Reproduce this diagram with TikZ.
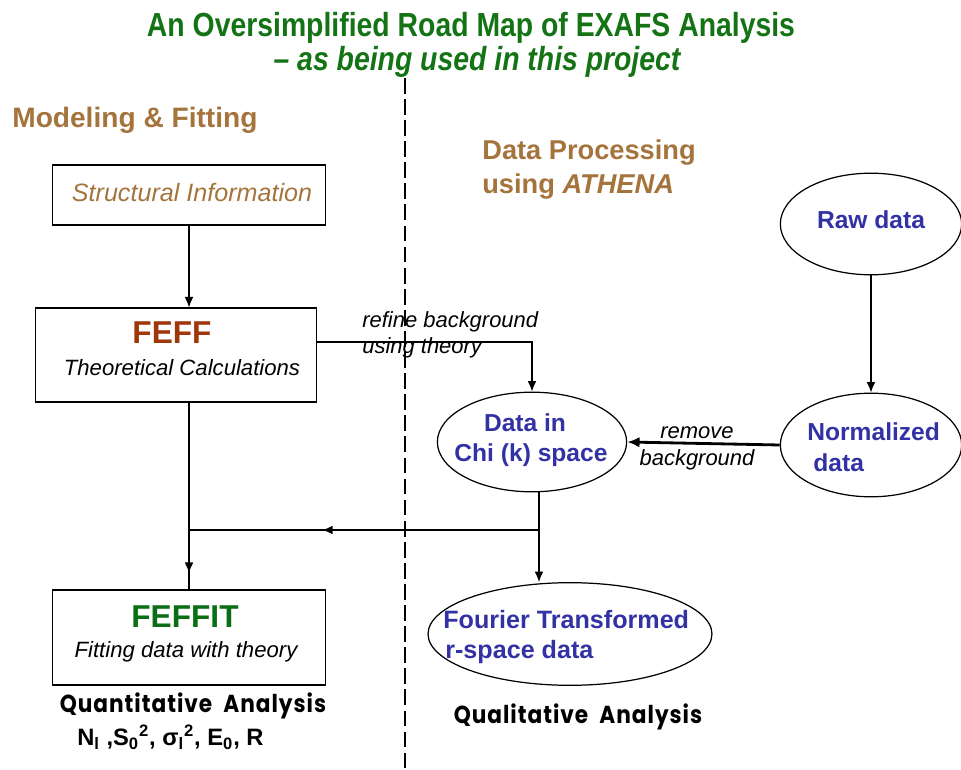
\documentclass[tikz,border=0pt]{standalone}
\usepackage{fontspec}
\setmainfont{Liberation Sans}
\newfontfamily\narrowfont[FakeStretch=0.85]{Liberation Sans}
\newfontfamily\comicfont[FakeStretch=0.88,LetterSpace=4]{Poppins}
\usetikzlibrary{arrows.meta,shapes.geometric}
\definecolor{titlegreen}{RGB}{20,115,20}
\definecolor{brownlbl}{RGB}{165,115,60}
\definecolor{feffred}{RGB}{160,55,10}
\definecolor{fitgreen}{RGB}{10,110,20}
\definecolor{datablue}{RGB}{50,50,165}
\newcommand{\fs}[1]{\fontsize{#1}{1.15\dimexpr#1pt\relax}\selectfont}
\begin{document}
\begin{tikzpicture}[x=0.02cm,y=-0.02cm,
  box/.style={draw,line width=0.8pt,minimum width=#1,inner sep=0pt},
  ell/.style={draw,ellipse,line width=0.7pt,inner sep=0pt},
  lbl/.style={inner sep=0pt,anchor=center},
  arr/.style={line width=0.7pt,-{Latex[length=6pt,width=5pt]}},
  ln/.style={line width=0.7pt},
  divider/.style={line width=0.7pt,dash pattern=on 9pt off 3pt}]
\useasboundingbox (0,0) rectangle (961,770);
% titles
\node[lbl,text=titlegreen] (t1) at (471,28) {\narrowfont\bfseries\fs{19}An Oversimplified Road Map of EXAFS Analysis};
\node[lbl,text=titlegreen] (t2) at (477,62) {\narrowfont\bfseries\itshape\fs{19}– as being used in this project};
\node[lbl,anchor=west,text=brownlbl] (mf) at (12,120) {\bfseries\fs{16}Modeling \& Fitting};
\node[lbl,anchor=west,text=brownlbl] (dp1) at (482,153) {\bfseries\fs{15.5}Data Processing};
\node[lbl,anchor=west,text=brownlbl] (dp2) at (482,187) {\bfseries\fs{15.5}using \itshape ATHENA};
% divider
\coordinate (dtop) at (405,78);
\coordinate (dbot) at (405,770);
\draw[divider] (dtop) -- (dbot);
% boxes
\node[box=274*0.567pt,minimum height=60*0.567pt] (struct) at (189,195) {};
\node[lbl,text=brownlbl] (structt) at (192,193) {\itshape\fs{14.3}Structural Information};
\node[box=282*0.567pt,minimum height=94*0.567pt] (feff) at (176,355) {};
\node[lbl,text=feffred] (feffa) at (172,333) {\bfseries\fs{18}FEFF};
\node[lbl] (feffb) at (182,368) {\itshape\fs{12.6}Theoretical Calculations};
\node[box=274*0.567pt,minimum height=95*0.567pt] (feffit) at (189,637.5) {};
\node[lbl,text=fitgreen] (feffita) at (185,617) {\bfseries\fs{18}FEFFIT};
\node[lbl] (feffitb) at (186,652) {\itshape\fs{12.6}Fitting data with theory};
% ellipses
\node[ell,minimum width=182*0.567pt,minimum height=102*0.567pt] (raw) at (871,224) {};
\node[lbl,text=datablue] (rawt) at (871,220) {\bfseries\fs{14}Raw data};
\node[ell,minimum width=182*0.567pt,minimum height=104*0.567pt] (norm) at (871,445) {};
\node[lbl,anchor=west,text=datablue] (normt1) at (807,432) {\bfseries\fs{14}Normalized};
\node[lbl,anchor=west,text=datablue] (normt2) at (813,463) {\bfseries\fs{14}data};
\node[ell,minimum width=190*0.567pt,minimum height=100*0.567pt] (chi) at (532,442) {};
\node[lbl,text=datablue] (chit1) at (525,423) {\bfseries\fs{14}Data in};
\node[lbl,text=datablue] (chit2) at (531,455) {\bfseries\fs{14}Chi (k) space};
\node[ell,minimum width=285*0.567pt,minimum height=103*0.567pt] (four) at (570,634) {};
\node[lbl,anchor=west,text=datablue] (fourt1) at (443,620) {\bfseries\fs{14.3}Fourier Transformed};
\node[lbl,anchor=west,text=datablue] (fourt2) at (445,652) {\bfseries\fs{14.3}r-space data};
% connector labels
\node[lbl,anchor=west] (ref1) at (362,322) {\itshape\fs{12.5}refine background};
\node[lbl,anchor=west] (ref2) at (362,348) {\itshape\fs{12.5}using theory};
\node[lbl] (rem1) at (697,433) {\itshape\fs{12.5}remove};
\node[lbl] (rem2) at (697,460) {\itshape\fs{12.5}background};
% analysis labels
\node[lbl] (quant) at (193,706) {\comicfont\bfseries\fs{14}Quantitative\ \ Analysis};
\node[lbl,anchor=west] (params) at (77,737) {\bfseries\fs{13.5}N\textsubscript{l} ,S\textsubscript{0}\textsuperscript{2}, σ\textsubscript{l}\textsuperscript{2}, E\textsubscript{0}, R};
\node[lbl] (qual) at (578,717) {\comicfont\bfseries\fs{14}Qualitative\ \ Analysis};
% connectors
\coordinate (sp) at (189,0);
\draw[arr] (struct.south) -- (sp |- feff.north);
\coordinate (r1) at (feff.east |- 0,342);
\draw[arr] (r1) -| (chi.north);
\draw[arr] (raw.south) -- (norm.north);
\draw[line width=1.6pt,-{Latex[length=7pt,width=6pt]}] (norm.west) -- (chi.east);
\coordinate (j) at (539,530);
\coordinate (jl) at (189,530);
\draw[ln] (chi.south -| j) -- (j) -- (jl);
\draw[arr] (j) -- (j |- four.north);
\coordinate (ma) at (368,530);
\coordinate (mb) at (322,530);
\draw[line width=1.4pt,-{Latex[length=6pt,width=5pt]}] (ma) -- (mb);
\draw[ln] (sp |- feff.south) -- (sp |- feffit.north);
\coordinate (fa) at (189,555);
\coordinate (fb) at (189,573);
\draw[arr] (fa) -- (fb);
\end{tikzpicture}
\end{document}
